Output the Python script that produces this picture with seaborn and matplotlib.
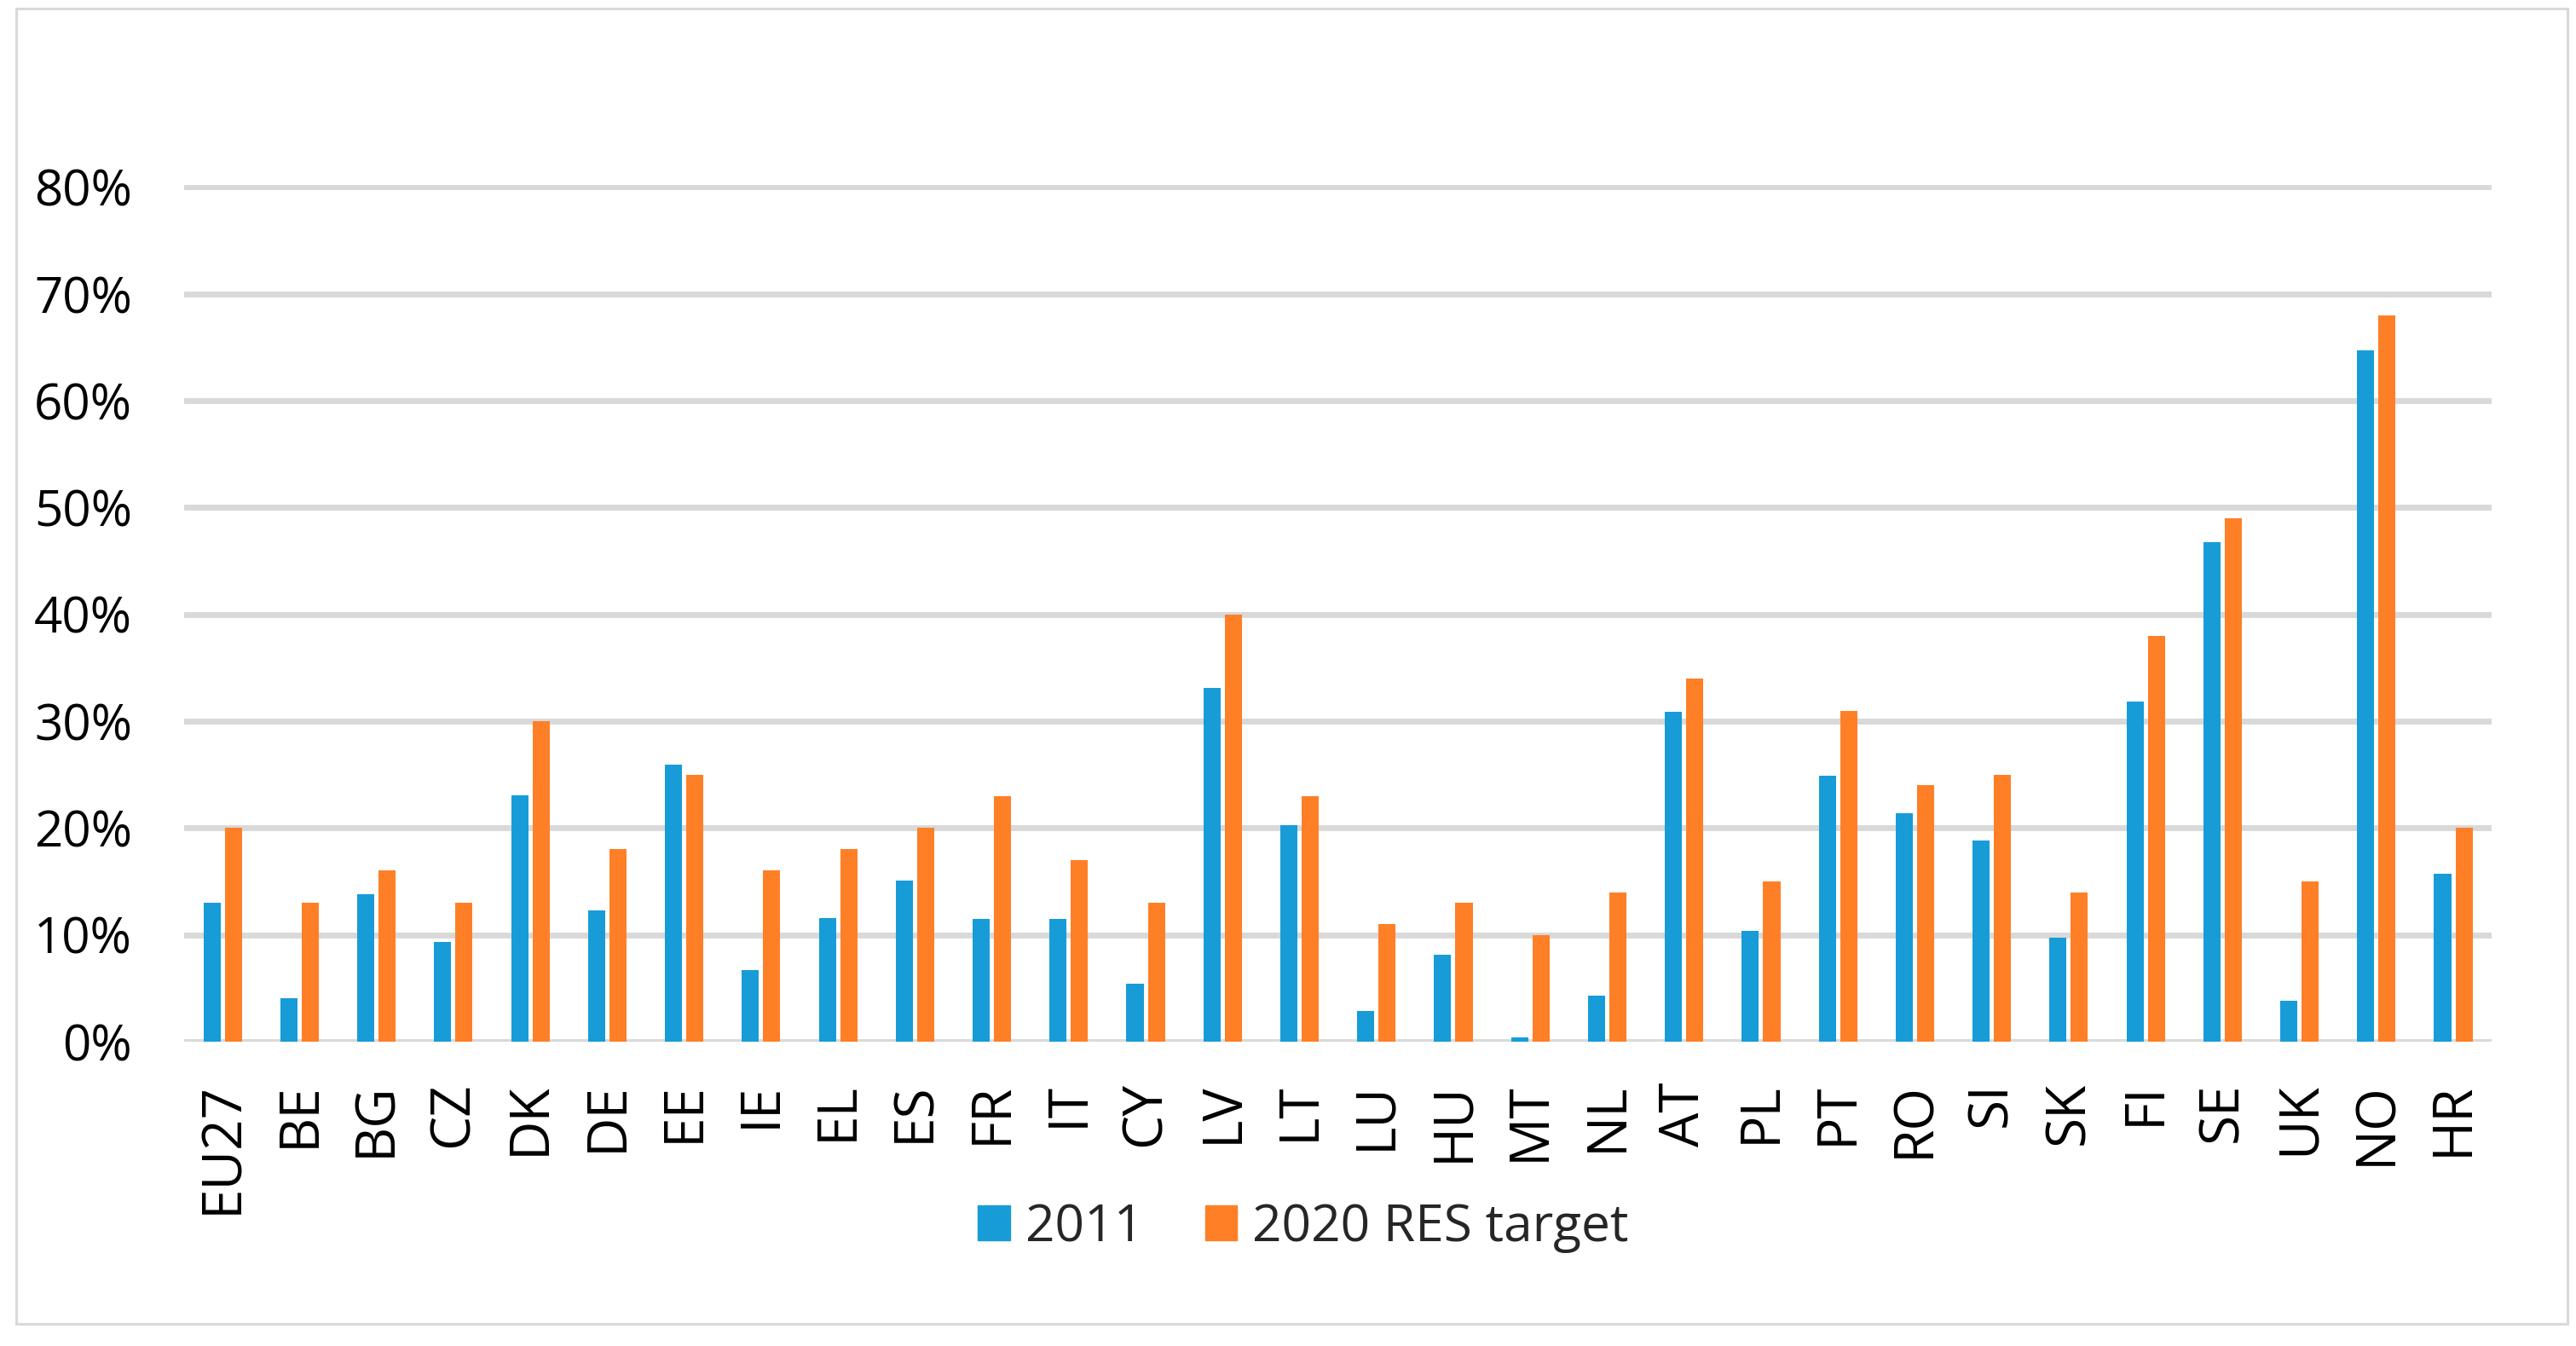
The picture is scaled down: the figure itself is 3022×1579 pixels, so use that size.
import matplotlib
matplotlib.use("Agg")
import matplotlib.pyplot as plt
import matplotlib.patches as mpatches
from matplotlib.ticker import PercentFormatter
import seaborn as sns
import pandas as pd

countries = ["EU27", "BE", "BG", "CZ", "DK", "DE", "EE", "IE", "EL", "ES", "FR", "IT", "CY", "LV",
             "LT", "LU", "HU", "MT", "NL", "AT", "PL", "PT", "RO", "SI", "SK", "FI", "SE", "UK", "NO", "HR"]
share_2011 = [13.0, 4.1, 13.8, 9.3, 23.1, 12.3, 25.9, 6.7, 11.6, 15.1, 11.5, 11.5, 5.4, 33.1,
              20.3, 2.9, 8.1, 0.4, 4.3, 30.9, 10.4, 24.9, 21.4, 18.8, 9.7, 31.8, 46.8, 3.8, 64.7, 15.7]
target_2020 = [20, 13, 16, 13, 30, 18, 25, 16, 18, 20, 23, 17, 13, 40,
               23, 11, 13, 10, 14, 34, 15, 31, 24, 25, 14, 38, 49, 15, 68, 20]
series_names = ["2011", "2020 RES target"]
yticks = [0, 10, 20, 30, 40, 50, 60, 70, 80]

blue = "#179CD8"
orange = "#FF7F27"
grid = "#D9D9D9"

df = pd.DataFrame({
    "country": countries * 2,
    "value": share_2011 + target_2020,
    "series": [series_names[0]] * len(countries) + [series_names[1]] * len(countries),
})

sns.set_style("white")
plt.rcParams["font.family"] = ["Open Sans", "DejaVu Sans"]

fig = plt.figure(figsize=(30.22, 15.79), dpi=100)
ax = fig.add_axes([0.0715, 0.2261, 0.8958, 0.6365])

sns.barplot(data=df, x="country", y="value", hue="series", order=countries,
            hue_order=series_names, palette=[blue, orange], saturation=1, width=0.556, gap=0.2,
            edgecolor="none", linewidth=0, ax=ax, legend=False, zorder=3)

ax.set_ylim(0, 80.2)
ax.set_xlim(-0.5, len(countries) - 0.5)
ax.set_yticks(yticks)
ax.yaxis.set_major_formatter(PercentFormatter(decimals=0))
ax.grid(axis="y", color=grid, linewidth=5, zorder=0)
ax.grid(axis="x", visible=False)
ax.set_axisbelow(True)
for s in ax.spines.values():
    s.set_visible(False)
ax.set_xlabel("")
ax.set_ylabel("")
ax.tick_params(axis="y", length=0, pad=44, labelsize=42, labelcolor="#000000")
ax.tick_params(axis="x", length=0, pad=34, labelsize=46, labelcolor="#000000", rotation=90)

# outer chart frame
frame = mpatches.Rectangle((19 / 3022, 1 - 1553 / 1579), (3012 - 19) / 3022, (1553 - 10) / 1579,
                           transform=fig.transFigure, fill=False, edgecolor=grid, linewidth=2.2)
fig.patches.append(frame)

handles = [mpatches.Patch(color=blue, label=series_names[0]),
           mpatches.Patch(color=orange, label=series_names[1])]
fig.legend(handles=handles, loc="center", bbox_to_anchor=(0.506, 0.088), ncol=2, frameon=False,
           fontsize=43.5, handlelength=0.62, handleheight=0.67, handletextpad=0.3, columnspacing=1.2)

fig.savefig("out.png", dpi=100, facecolor="white")
